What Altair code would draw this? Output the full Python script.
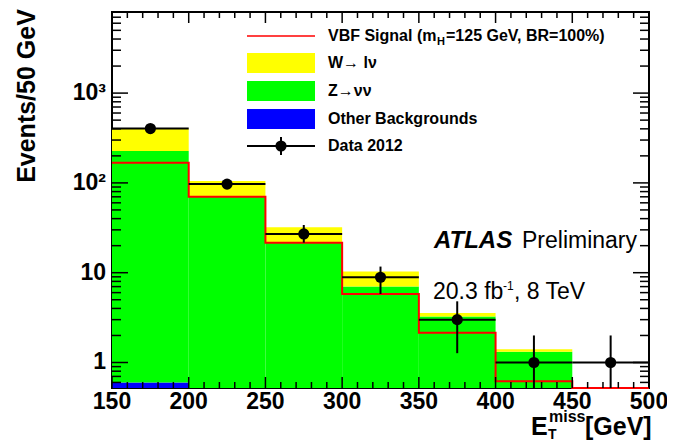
import altair as alt
import pandas as pd

# ---------------- data ----------------
bin_lo = [150, 200, 250, 300, 350, 400, 450]
bin_hi = [200, 250, 300, 350, 400, 450, 500]
other_bkg = [0.6, 0, 0, 0, 0, 0, 0]                    # Other Backgrounds
z_nunu = [225.4, 70, 21.5, 7.0, 3.25, 1.32, 0]          # Z -> nu nu
w_lnu = [174, 35, 10.5, 3.3, 0.3, 0.08, 0]              # W -> l nu
signal = [168, 70, 21.5, 5.8, 2.15, 0.62, 0.3]          # VBF signal
data_val = [403, 97, 27, 8.9, 3.0, 1.0, 1.0]            # Data 2012
data_hi = [423, 107, 34, 11.7, 4.8, 2.0, 2.0]
data_lo = [383, 87, 21.6, 5.8, 1.27, 0.3, 0.3]

x_major = [150, 200, 250, 300, 350, 400, 450, 500]
x_labels = ["150", "200", "250", "300", "350", "400", "450", "500"]
x_minor = [160, 170, 180, 190, 210, 220, 230, 240, 260, 270, 280, 290,
           310, 320, 330, 340, 360, 370, 380, 390, 410, 420, 430, 440,
           460, 470, 480, 490]
y_major = [1, 10, 100, 1000]
y_labels = ["1", "10", "10²", "10³"]
y_minor = [0.6, 0.7, 0.8, 0.9, 2, 3, 4, 5, 6, 7, 8, 9,
           20, 30, 40, 50, 60, 70, 80, 90,
           200, 300, 400, 500, 600, 700, 800, 900,
           2000, 3000, 4000, 5000, 6000, 7000]

FLOOR = 0.3
W, H = 537, 376
XMIN, XMAX = 150, 500
YMIN, YMAX = 0.52, 8000
FONT = "Liberation Sans"

rows = []
for i in range(len(bin_lo)):
    b0 = FLOOR
    b1 = max(other_bkg[i], FLOOR)
    b2 = max(other_bkg[i] + z_nunu[i], FLOOR)
    b3 = max(other_bkg[i] + z_nunu[i] + w_lnu[i], FLOOR)
    rows.append(dict(lo=bin_lo[i], hi=bin_hi[i], bot=b0, top=b1, comp="Other"))
    rows.append(dict(lo=bin_lo[i], hi=bin_hi[i], bot=b1, top=b2, comp="Z"))
    rows.append(dict(lo=bin_lo[i], hi=bin_hi[i], bot=b2, top=b3, comp="W"))
stack = pd.DataFrame(rows)

sig = pd.DataFrame({"x": bin_lo + [bin_hi[-1]], "y": signal + [signal[-1]]})
dat = pd.DataFrame({
    "lo": bin_lo, "hi": bin_hi,
    "c": [(a + b) / 2 for a, b in zip(bin_lo, bin_hi)],
    "v": data_val, "eh": data_hi, "el": data_lo,
})

xscale = alt.Scale(domain=[XMIN, XMAX], nice=False, zero=False)
yscale = alt.Scale(type="log", domain=[YMIN, YMAX], nice=False, clamp=True)

def X(f):
    return alt.X(f, type="quantitative", scale=xscale, axis=None)

def Y(f):
    return alt.Y(f, type="quantitative", scale=yscale, axis=None)

layers = []

bars = alt.Chart(stack).mark_rect(strokeWidth=0).encode(
    x=X("lo"), x2="hi", y=Y("top"), y2="bot",
    color=alt.Color("comp:N", scale=alt.Scale(domain=["Other", "Z", "W"],
                                              range=["#0000ff", "#00ff00", "#ffff00"]),
                    legend=None),
)
layers.append(bars)

sigline = alt.Chart(sig).mark_line(interpolate="step-after", color="#ff0000",
                                   strokeWidth=2).encode(x=X("x"), y=Y("y"))
layers.append(sigline)

herr = alt.Chart(dat).mark_rule(color="black", strokeWidth=2).encode(
    x=X("lo"), x2="hi", y=Y("v"))
verr = alt.Chart(dat).mark_rule(color="black", strokeWidth=2).encode(
    x=X("c"), y=Y("el"), y2="eh")
pts = alt.Chart(dat).mark_circle(color="black", size=125, opacity=1).encode(
    x=X("c"), y=Y("v"))
layers += [herr, verr, pts]

# ---- inward ticks (ROOT style) ----
yt_major = alt.Data(values=[{"yv": v} for v in y_major])
yt_minor = alt.Data(values=[{"yv": v} for v in y_minor])
xt_major = alt.Data(values=[{"xv": v} for v in x_major])
xt_minor = alt.Data(values=[{"xv": v} for v in x_minor])

layers += [
    alt.Chart(yt_major).mark_rule(stroke="#000000", strokeWidth=1.5).encode(
        y=Y("yv"), x=alt.value(0), x2=alt.value(16)),
    alt.Chart(yt_minor).mark_rule(stroke="#000000", strokeWidth=1.5).encode(
        y=Y("yv"), x=alt.value(0), x2=alt.value(9)),
    alt.Chart(yt_major).mark_rule(stroke="#000000", strokeWidth=1.5).encode(
        y=Y("yv"), x=alt.value(W - 16), x2=alt.value(W)),
    alt.Chart(yt_minor).mark_rule(stroke="#000000", strokeWidth=1.5).encode(
        y=Y("yv"), x=alt.value(W - 9), x2=alt.value(W)),
    alt.Chart(xt_major).mark_rule(stroke="#000000", strokeWidth=1.5).encode(
        x=X("xv"), y=alt.value(H - 11), y2=alt.value(H)),
    alt.Chart(xt_minor).mark_rule(stroke="#000000", strokeWidth=1.5).encode(
        x=X("xv"), y=alt.value(H - 6), y2=alt.value(H)),
    alt.Chart(xt_major).mark_rule(stroke="#000000", strokeWidth=1.5).encode(
        x=X("xv"), y=alt.value(0), y2=alt.value(11)),
    alt.Chart(xt_minor).mark_rule(stroke="#000000", strokeWidth=1.5).encode(
        x=X("xv"), y=alt.value(0), y2=alt.value(6)),
]

one = pd.DataFrame({"a": [0]})

def txt(s, x, y, size, weight="bold", style="normal", align="left", baseline="alphabetic", angle=0):
    kw = dict(font=FONT, fontSize=size, fontWeight=weight, fontStyle=style,
              align=align, baseline=baseline, color="black")
    if angle:
        kw["angle"] = angle
    return alt.Chart(one).mark_text(**kw).encode(
        x=alt.value(x), y=alt.value(y), text=alt.value(s))

# legend
LX0, LX1, TX = 135, 203, 216
layers += [
    alt.Chart(one).mark_rule(color="#ff4040", strokeWidth=2).encode(
        x=alt.value(LX0), x2=alt.value(LX1), y=alt.value(24)),
    alt.Chart(one).mark_rect(color="#ffff00").encode(
        x=alt.value(LX0), x2=alt.value(LX1), y=alt.value(41), y2=alt.value(61)),
    alt.Chart(one).mark_rect(color="#00ff00").encode(
        x=alt.value(LX0), x2=alt.value(LX1), y=alt.value(69), y2=alt.value(89)),
    alt.Chart(one).mark_rect(color="#0000ff").encode(
        x=alt.value(LX0), x2=alt.value(LX1), y=alt.value(97), y2=alt.value(117)),
    alt.Chart(one).mark_rule(color="black", strokeWidth=2).encode(
        x=alt.value(LX0), x2=alt.value(LX1), y=alt.value(134)),
    alt.Chart(one).mark_rule(color="black", strokeWidth=2).encode(
        x=alt.value(169), y=alt.value(125), y2=alt.value(143)),
    alt.Chart(one).mark_circle(color="black", size=125, opacity=1).encode(
        x=alt.value(169), y=alt.value(134)),
    txt("VBF Signal (m", TX, 24, 16, baseline="middle"),
    txt("H", 325, 30, 11, baseline="middle"),
    txt("=125 GeV, BR=100%)", 334, 24, 16, baseline="middle"),
    txt("W→ lν", TX, 51, 16, baseline="middle"),
    txt("Z→νν", TX, 79, 16, baseline="middle"),
    txt("Other Backgrounds", TX, 107, 16, baseline="middle"),
    txt("Data 2012", TX, 134, 16, baseline="middle"),
]

# ATLAS label
layers += [
    txt("ATLAS", 322, 236, 24, weight="bold", style="italic"),
    txt("Preliminary", 410, 236, 23, weight="normal"),
    txt("20.3 fb", 321, 287, 23, weight="normal"),
    txt("-1", 391, 278, 12, weight="normal"),
    txt(", 8 TeV", 402, 287, 23, weight="normal"),
]

# axis titles
layers += [
    txt("Events/50 GeV", -85, 84, 25, align="center", baseline="middle", angle=270),
    txt("E", 419, 423, 25),
    txt("T", 436, 427, 14),
    txt("miss", 437, 410, 16),
    txt("[GeV]", 473, 423, 25),
]

# tick labels (separate data)
ylab_data = alt.Data(values=[{"lv": v, "ltxt": s} for v, s in zip(y_major, y_labels)])
xlab_data = alt.Data(values=[{"lx": v, "ltx": s} for v, s in zip(x_major, x_labels)])
layers += [
    alt.Chart(ylab_data).mark_text(font=FONT, fontSize=23, fontWeight="bold", color="black",
                                   align="right", baseline="middle").encode(
        y=Y("lv"), x=alt.value(-6), text="ltxt:N"),
    alt.Chart(xlab_data).mark_text(font=FONT, fontSize=23, fontWeight="bold", color="black",
                                   align="center", baseline="top").encode(
        x=X("lx"), y=alt.value(H + 3), text="ltx:N"),
]

chart = alt.layer(*layers).properties(
    width=W, height=H,
    autosize=alt.AutoSizeParams(type="none"),
    padding={"left": 104, "top": 4, "right": 18, "bottom": 52},
).configure_view(stroke="black", strokeWidth=2)

chart.save("out.html", embed_options={"renderer": "svg", "actions": False})
